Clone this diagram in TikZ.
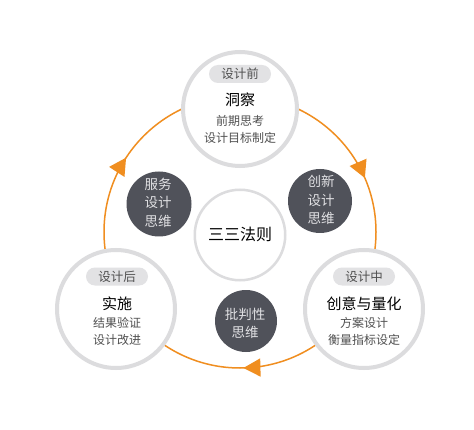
\documentclass[tikz,border=0pt]{standalone}
\usepackage{fontspec}
\setmainfont{Noto Sans CJK SC}
\usetikzlibrary{decorations.markings,arrows.meta}
\definecolor{ring}{RGB}{220,220,222}
\definecolor{orng}{RGB}{240,142,32}
\definecolor{dark}{RGB}{80,82,90}
\definecolor{pillc}{RGB}{226,226,228}
\definecolor{graytext}{RGB}{80,80,80}
\definecolor{lighttext}{RGB}{225,225,228}
\begin{document}
\begin{tikzpicture}[x=1pt,y=1pt,
  bigc/.style={circle,draw=ring,line width=4pt,fill=white,inner sep=0pt},
  midc/.style={circle,draw=ring,line width=2.5pt,fill=white,inner sep=0pt,minimum size=90.5pt},
  darkc/.style={circle,fill=dark,inner sep=0pt},
  pill/.style={rounded corners=9pt,fill=pillc,text=graytext,minimum width=62pt,minimum height=18pt,inner sep=0pt,font=\fontsize{12.5pt}{14pt}\selectfont},
  ttl/.style={inner sep=0pt,text=black,font=\fontsize{15pt}{17pt}\selectfont},
  sub/.style={inner sep=0pt,text=graytext,font=\fontsize{12pt}{14pt}\selectfont},
  dtxt/.style={inner sep=0pt,text=lighttext,font=\fontsize{13.5pt}{15pt}\selectfont},
  ctxt/.style={inner sep=0pt,text=black,font=\fontsize{16pt}{18pt}\selectfont},
  tri/.tip={Triangle[length=17pt,width=18pt]}
]
\useasboundingbox (0,0) rectangle (474,429);
\fill[white] (0,0) rectangle (474,429);

% orange cycle
\coordinate (arcstart) at (240,333);
\draw[orng,line width=1.5pt,
  decoration={markings,
    mark=at position 0.185 with {\arrow{tri}},
    mark=at position 0.496 with {\arrow{tri}},
    mark=at position 0.842 with {\arrow{tri}}},
  postaction={decorate}]
  (arcstart) arc[start angle=90,end angle=-270,radius=136];

% big stage circles
\node[bigc,minimum size=114pt] (top) at (240,320) {};
\node[bigc,minimum size=118pt] (left) at (116,120) {};
\node[bigc,minimum size=118pt] (right) at (364,120) {};

% centre circle
\node[midc] (mid) at (240,194) {};
\node[ctxt] (midtxt) at (240,194.5) {三三法则};

% dark circles
\node[darkc,minimum size=65pt] (fw) at (159,225) {};
\node[dtxt] (fw1) at (158,245) {服务};
\node[dtxt] (fw2) at (158,226.5) {设计};
\node[dtxt] (fw3) at (158,208) {思维};

\node[darkc,minimum size=64pt] (cx) at (320,228) {};
\node[dtxt] (cx1) at (321,247.5) {创新};
\node[dtxt] (cx2) at (321,229) {设计};
\node[dtxt] (cx3) at (321,210.5) {思维};

\node[darkc,minimum size=62pt] (pp) at (246,108) {};
\node[dtxt] (pp1) at (245,115) {批判性};
\node[dtxt] (pp2) at (245,97) {思维};

% top stage
\node[pill] (toptag) at (240,355) {设计前};
\node[ttl] (toptitle) at (240,329.5) {洞察};
\node[sub] (topl1) at (240,308.5) {前期思考};
\node[sub] (topl2) at (240,291.5) {设计目标制定};

% left stage
\node[pill] (lefttag) at (117,152.5) {设计后};
\node[ttl] (lefttitle) at (117,125.5) {实施};
\node[sub] (leftl1) at (117,106) {结果验证};
\node[sub] (leftl2) at (117,89) {设计改进};

% right stage
\node[pill] (righttag) at (364,152.5) {设计中};
\node[ttl] (righttitle) at (364,125.5) {创意与量化};
\node[sub] (rightl1) at (364,106) {方案设计};
\node[sub] (rightl2) at (364,89) {衡量指标设定};
\end{tikzpicture}
\end{document}
